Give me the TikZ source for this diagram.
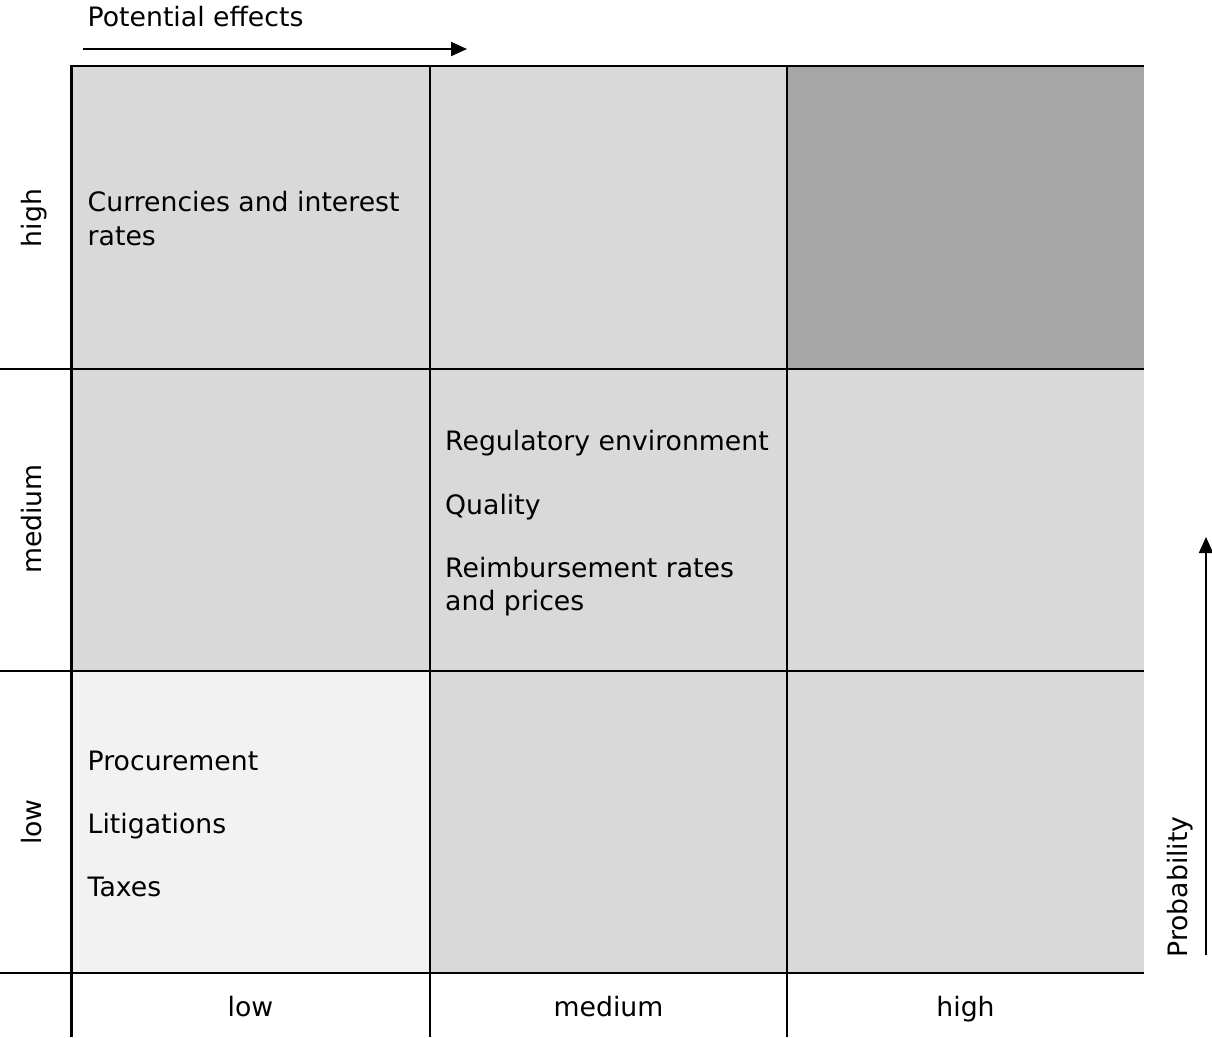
\documentclass[tikz,border=0pt]{standalone}
\usepackage{fontspec}
\setmainfont{DejaVu Sans}
\usetikzlibrary{arrows.meta}
\definecolor{cellmid}{HTML}{D9D9D9}
\definecolor{celldark}{HTML}{A6A6A6}
\definecolor{celllight}{HTML}{F2F2F2}
\begin{document}
\begin{tikzpicture}[x=1pt,y=-1pt,
  every node/.style={inner sep=0pt, font=\fontsize{26.7}{32}\selectfont},
  lbl/.style={anchor=base west},
  rowlbl/.style={rotate=90, anchor=base},
  collbl/.style={anchor=base},
  gridline/.style={line width=2.9pt},
  axarrow/.style={line width=2pt, -{Triangle[length=16pt,width=14pt]}}]
\useasboundingbox (0,0) rectangle (1212,1037);
% cells
\fill[cellmid] (71.5,66) rectangle (1144,973);
\fill[celldark] (787,66) rectangle (1144,369);
\fill[celllight] (71.5,671) rectangle (430,973);
% grid
\draw[gridline] (1144,66) -- (71.5,66) -- (71.5,1037);
\draw[gridline] (430,66) -- (430,1037);
\draw[gridline] (787,66) -- (787,1037);
\draw[gridline] (0,369) -- (1144,369);
\draw[gridline] (0,671) -- (1144,671);
\draw[gridline] (0,973) -- (1144,973);
% axes
\node[lbl] (pe) at (87.5,26.7) {Potential effects};
\coordinate (peS) at (83,49);
\coordinate (peE) at (467,49);
\draw[axarrow] (peS) -- (peE);
\node[rowlbl] (prob) at (1187,887) {Probability};
\coordinate (prS) at (1206,955);
\coordinate (prE) at (1206,537);
\draw[axarrow] (prS) -- (prE);
% row labels
\node[rowlbl] (rh) at (41,218) {high};
\node[rowlbl] (rm) at (41,519) {medium};
\node[rowlbl] (rl) at (41,822) {low};
% column labels
\node[collbl] (cl) at (250.5,1016) {low};
\node[collbl] (cm) at (608.5,1016) {medium};
\node[collbl] (ch) at (965.5,1016) {high};
% cell texts
\node[lbl] (t1a) at (87.5,211.7) {Currencies and interest};
\node[lbl] (t1b) at (87.5,245) {rates};
\node[lbl] (t2) at (445,450.7) {Regulatory environment};
\node[lbl] (t3) at (445,514) {Quality};
\node[lbl] (t4a) at (445,577) {Reimbursement rates};
\node[lbl] (t4b) at (445,610) {and prices};
\node[lbl] (t5) at (87.5,770) {Procurement};
\node[lbl] (t6) at (87.5,833) {Litigations};
\node[lbl] (t7) at (87.5,896.5) {Taxes};
\end{tikzpicture}
\end{document}
